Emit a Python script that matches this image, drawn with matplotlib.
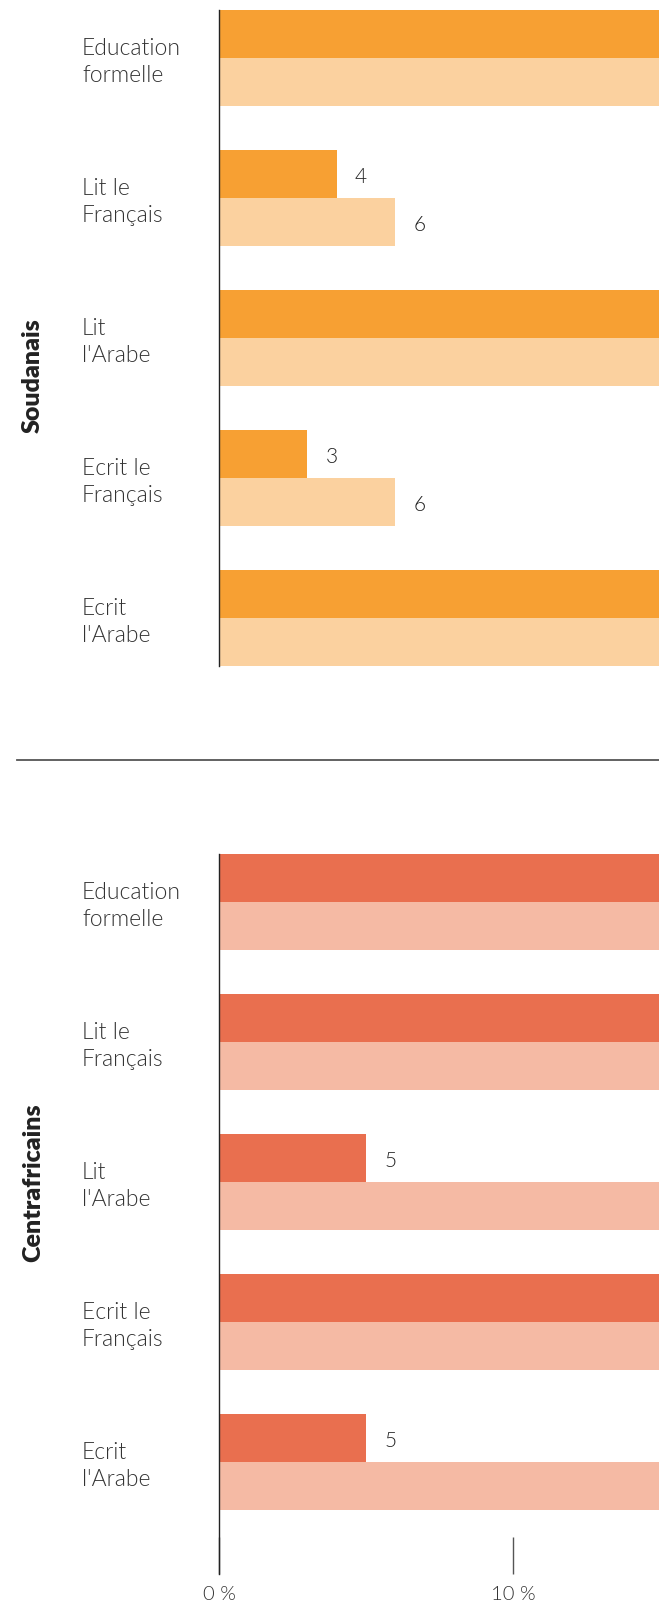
import matplotlib
matplotlib.use("Agg")
import matplotlib.pyplot as plt
import numpy as np

plt.rcParams['font.family'] = ['Lato', 'DejaVu Sans']

categories = ["Education\nformelle", "Lit le\nFrançais", "Lit\nl'Arabe", "Ecrit le\nFrançais", "Ecrit\nl'Arabe"]
# values beyond ~15 % are cut off by the frame of the original; estimated
soud_dark = [30, 4, 30, 3, 30]
soud_light = [30, 6, 30, 6, 30]
centr_dark = [30, 30, 5, 30, 5]
centr_light = [30, 30, 30, 30, 30]
groups = ["Soudanais", "Centrafricains"]
xticks = [0, 10]
xticklabels = ["0 %", "10 %"]

W, H = 659, 1611
fig = plt.figure(figsize=(W / 100, H / 100), dpi=100)

XMAX = (659 - 219) / 29.4
h = 48 / 140
txt_col = "#333333"
FW = 300


def px_axes(x0, y0, x1, y1):
    return fig.add_axes([x0 / W, 1 - y1 / H, (x1 - x0) / W, (y1 - y0) / H])


def panel(ax, dark, light, cdark, clight, ybottom):
    y = np.arange(len(categories))
    ax.barh(y - h / 2, dark, height=h, color=cdark, zorder=2)
    ax.barh(y + h / 2, light, height=h, color=clight, zorder=2)
    for yi, v in zip(y - h / 2, dark):
        if v < XMAX - 1:
            ax.text(v + 0.62, yi + 0.02, str(v), va="center", ha="left", fontsize=15,
                    color="#222222", fontweight=FW)
    for yi, v in zip(y + h / 2, light):
        if v < XMAX - 1:
            ax.text(v + 0.62, yi + 0.02, str(v), va="center", ha="left", fontsize=15,
                    color="#222222", fontweight=FW)
    ax.set_xlim(0, XMAX)
    ax.set_ylim(ybottom, -h)
    for s in ["top", "right", "bottom"]:
        ax.spines[s].set_visible(False)
    ax.spines["left"].set_color("#222222")
    ax.spines["left"].set_linewidth(1.0)
    ax.set_yticks([])
    for yi, lab in zip(y, categories):
        ax.text(-137 / 29.4, yi + 0.03, lab, ha="left", va="center", fontsize=16.5,
                color=txt_col, fontweight=FW, linespacing=1.35, clip_on=False)


# top panel
ax1 = px_axes(219, 10, 659, 666)
panel(ax1, soud_dark, soud_light, "#F7A033", "#FBD19F", len(categories) - 1 + h)
ax1.set_xticks([])

# bottom panel
ax2 = px_axes(219, 854, 659, 1574)
panel(ax2, centr_dark, centr_light, "#E96F4F", "#F5BAA4", len(categories) - 1 + h + 64 / 140)
ax2.set_xticks(xticks)
ax2.set_xticklabels(xticklabels)
ax2.tick_params(axis="x", direction="in", length=26.5, width=1.0, color="#555555",
                labelsize=14.5, labelcolor=txt_col, pad=9)
for t in ax2.get_xticklabels():
    t.set_fontweight(FW)

# separator line
fig.add_artist(plt.Line2D([17 / W, 1], [1 - 760 / H, 1 - 760 / H], color="#555555", lw=1.3))

# group labels
fig.text(33 / W, 1 - 376 / H, groups[0], rotation=90, ha="center", va="center",
         fontsize=18, fontweight="heavy", color="#222222")
fig.text(33 / W, 1 - 1183 / H, groups[1], rotation=90, ha="center", va="center",
         fontsize=18, fontweight="heavy", color="#222222")

fig.savefig("out.png", dpi=100)
